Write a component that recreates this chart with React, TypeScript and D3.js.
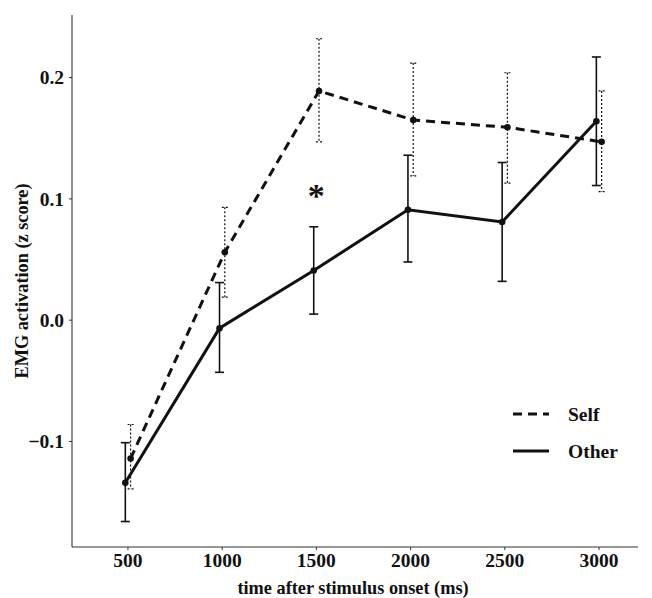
import React from "react";
import * as d3 from "d3";

const times = [500, 1000, 1500, 2000, 2500, 3000];
const selfMean = [-0.114, 0.056, 0.189, 0.165, 0.159, 0.147];
const selfUpper = [-0.086, 0.093, 0.232, 0.212, 0.204, 0.189];
const selfLower = [-0.139, 0.019, 0.147, 0.119, 0.113, 0.106];
const otherMean = [-0.134, -0.0066, 0.041, 0.091, 0.081, 0.164];
const otherUpper = [-0.101, 0.031, 0.077, 0.136, 0.130, 0.217];
const otherLower = [-0.166, -0.043, 0.005, 0.048, 0.032, 0.111];
const xTicks = [500, 1000, 1500, 2000, 2500, 3000];
const yTicks = [-0.1, 0.0, 0.1, 0.2];
const seriesNames = ["Self", "Other"];
const sigTime = 1500;
const sigValue = 0.105;

const W = 652;
const H = 598;
const left = 72;
const right = 638;
const top = 15;
const bottom = 547;
const FONT = "'Liberation Serif', 'Times New Roman', serif";

export default function App() {
  const x = d3.scaleLinear().domain([203, 3207]).range([left, right]);
  const y = d3.scaleLinear().domain([-0.187, 0.2516]).range([bottom, top]);
  const dodge = 14;

  const series = [
    { name: seriesNames[0], mean: selfMean, up: selfUpper, lo: selfLower, off: dodge, dash: "9,6", ebDash: "2,2", ebW: 1.2, cap: 3 },
    { name: seriesNames[1], mean: otherMean, up: otherUpper, lo: otherLower, off: -dodge, dash: null, ebDash: null, ebW: 1.6, cap: 4.5 },
  ];

  const line = d3
    .line<[number, number]>()
    .x((d) => d[0])
    .y((d) => d[1]);

  return (
    <svg width={W} height={H} style={{ position: "absolute", left: 0, top: 0, background: "#fff" }} fontFamily={FONT}>
      {/* axes */}
      <line x1={left} x2={left} y1={top} y2={bottom} stroke="#333" strokeWidth={1.1} />
      <line x1={left} x2={right} y1={bottom} y2={bottom} stroke="#333" strokeWidth={1.1} />
      {yTicks.map((t) => (
        <g key={"y" + t}>
          <line x1={left - 3} x2={left} y1={y(t)} y2={y(t)} stroke="#333" strokeWidth={1} />
          <text x={left - 8} y={y(t)} dy="0.35em" textAnchor="end" fontSize={19.5} fontWeight="bold" fill="#111">
            {d3.format(".1f")(t)}
          </text>
        </g>
      ))}
      {xTicks.map((t) => (
        <g key={"x" + t}>
          <line x1={x(t)} x2={x(t)} y1={bottom} y2={bottom + 3} stroke="#333" strokeWidth={1} />
          <text x={x(t)} y={bottom + 20} textAnchor="middle" fontSize={19.5} fontWeight="bold" fill="#111">
            {t}
          </text>
        </g>
      ))}
      <text x={353} y={588} dy="0.35em" textAnchor="middle" fontSize={18.3} fontWeight="bold" fill="#111">
        time after stimulus onset (ms)
      </text>
      <text
        transform={`translate(22, ${(top + bottom) / 2}) rotate(-90)`}
        textAnchor="middle"
        dy="0.35em"
        fontSize={18.3}
        fontWeight="bold"
        fill="#111"
      >
        EMG activation (z score)
      </text>

      {/* series */}
      {series.map((s) => {
        const pts: [number, number][] = times.map((t, i) => [x(t + s.off), y(s.mean[i])]);
        return (
          <g key={s.name}>
            {times.map((t, i) => {
              const cx = x(t + s.off);
              return (
                <g key={i} stroke="#111" strokeWidth={s.ebW} strokeDasharray={s.ebDash ?? undefined}>
                  <line x1={cx} x2={cx} y1={y(s.up[i])} y2={y(s.lo[i])} />
                  <line x1={cx - s.cap} x2={cx + s.cap} y1={y(s.up[i])} y2={y(s.up[i])} />
                  <line x1={cx - s.cap} x2={cx + s.cap} y1={y(s.lo[i])} y2={y(s.lo[i])} />
                </g>
              );
            })}
            <path d={line(pts) ?? ""} fill="none" stroke="#111" strokeWidth={3} strokeDasharray={s.dash ?? undefined} />
            {pts.map((p, i) => (
              <circle key={i} cx={p[0]} cy={p[1]} r={3.3} fill="#111" />
            ))}
          </g>
        );
      })}

      {/* significance marker */}
      <text x={x(sigTime)} y={y(sigValue) + 14} textAnchor="middle" fontSize={34} fontWeight="bold" fill="#111">
        *
      </text>

      {/* legend */}
      {series.map((s, i) => {
        const ly = 414 + i * 37;
        return (
          <g key={"leg" + s.name}>
            <line x1={513} x2={549} y1={ly} y2={ly} stroke="#111" strokeWidth={3} strokeDasharray={s.dash ?? undefined} />
            <text x={568} y={ly} dy="0.35em" fontSize={19.5} fontWeight="bold" fill="#111">
              {s.name}
            </text>
          </g>
        );
      })}
    </svg>
  );
}
